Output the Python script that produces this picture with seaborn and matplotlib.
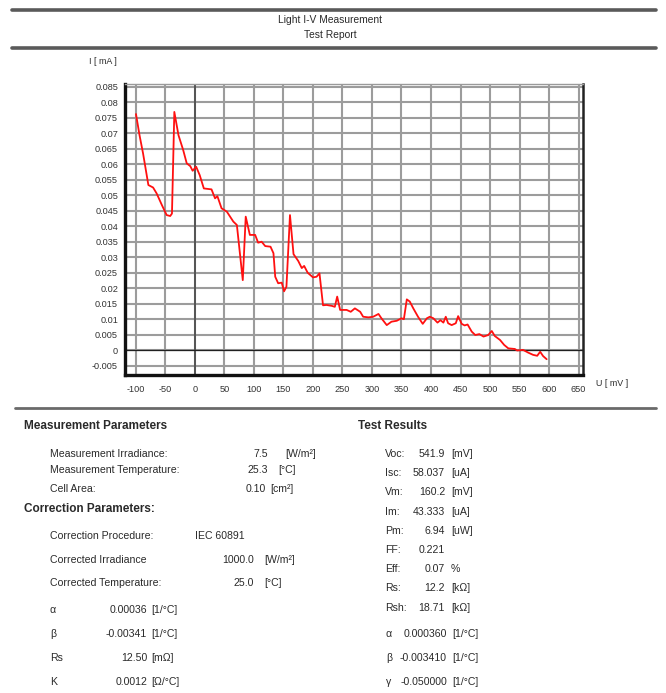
import matplotlib
matplotlib.use("Agg")
import matplotlib.pyplot as plt
from matplotlib.lines import Line2D
from matplotlib.ticker import FuncFormatter
import numpy as np
import pandas as pd
import seaborn as sns

# ---- I-V sweep (voltage in mV, current in mA) ----
voltage_mv = [
    -100, -94, -88, -79, -71, -65, -56, -48, -42, -39, -35, -28, -20, -14, -8, -4,
    2, 8, 15, 28, 34, 38, 45, 54, 65, 71, 81, 86, 93, 102, 107, 113, 119, 128,
    133, 136, 141, 147, 151, 155, 161, 167, 175, 181, 185, 191, 200, 206, 211,
    217, 223, 232, 237, 241, 246, 257, 264, 271, 280, 285, 294, 302, 311, 316,
    325, 333, 342, 350, 354, 359, 364, 370, 378, 386, 393, 398, 404, 411, 416,
    421, 425, 429, 435, 442, 446, 452, 457, 462, 469, 475, 482, 489, 497, 503,
    508, 517, 524, 531, 542, 546, 556, 565, 573, 580, 585, 590, 596,
]
current_ma = [
    0.0762, 0.0694, 0.0635, 0.0533, 0.0525, 0.0506, 0.0468, 0.0436, 0.0433,
    0.0441, 0.0769, 0.0694, 0.0646, 0.0603, 0.0594, 0.0579, 0.0592, 0.0565,
    0.0522, 0.0519, 0.0490, 0.0497, 0.0458, 0.0447, 0.0415, 0.0404, 0.0226,
    0.0431, 0.0372, 0.0372, 0.0347, 0.0350, 0.0336, 0.0334, 0.0313, 0.0237,
    0.0216, 0.0218, 0.0190, 0.0205, 0.0436, 0.0310, 0.0288, 0.0265, 0.0272,
    0.0250, 0.0235, 0.0237, 0.0248, 0.0145, 0.0146, 0.0143, 0.0140, 0.0173,
    0.0130, 0.0130, 0.0124, 0.0135, 0.0124, 0.0108, 0.0106, 0.0108, 0.0117,
    0.0103, 0.0081, 0.0092, 0.0095, 0.0103, 0.0100, 0.0164, 0.0157, 0.0135,
    0.0108, 0.0085, 0.0103, 0.0108, 0.0103, 0.0089, 0.0097, 0.0089, 0.0108,
    0.0087, 0.0081, 0.0087, 0.0110, 0.0085, 0.0080, 0.0083, 0.0060, 0.0049,
    0.0052, 0.0044, 0.0049, 0.0062, 0.0046, 0.0033, 0.0017, 0.0006, 0.0004,
    -0.0001, 0.0001, -0.0008, -0.0015, -0.0018, -0.0005, -0.0019, -0.0029,
]

x_ticks = list(range(-100, 651, 50))
y_ticks = [round(v, 3) for v in np.arange(-0.005, 0.0851, 0.005)]

# ---- report tables ----
measurement_labels = ["Measurement Irradiance:", "Measurement Temperature:", "Cell Area:"]
measurement_values = ["7.5", "25.3", "0.10"]
measurement_units = ["[W/m²]", "[°C]", "[cm²]"]

correction_labels = ["Corrected Irradiance", "Corrected Temperature:"]
correction_values = ["1000.0", "25.0"]
correction_units = ["[W/m²]", "[°C]"]

coef_labels = ["α", "β", "Rs", "K"]
coef_values = ["0.00036", "-0.00341", "12.50", "0.0012"]
coef_units = ["[1/°C]", "[1/°C]", "[mΩ]", "[Ω/°C]"]

result_labels = ["Voc:", "Isc:", "Vm:", "Im:", "Pm:", "FF:", "Eff:", "Rs:", "Rsh:"]
result_values = ["541.9", "58.037", "160.2", "43.333", "6.94", "0.221", "0.07", "12.2", "18.71"]
result_units = ["[mV]", "[uA]", "[mV]", "[uA]", "[uW]", "", "%", "[kΩ]", "[kΩ]"]

temp_labels = ["α", "β", "γ"]
temp_values = ["0.000360", "-0.003410", "-0.050000"]
temp_units = ["[1/°C]", "[1/°C]", "[1/°C]"]

# ---- styling ----
sns.set_style("white")
plt.rcParams["font.family"] = ["Liberation Sans", "DejaVu Sans"]
plt.rcParams["axes.unicode_minus"] = False
TXT = "#2a2a2a"

W, H = 666, 693
fig = plt.figure(figsize=(W / 100, H / 100), dpi=100)


def fx(px):
    return px / W


def fy(py):
    return 1 - py / H


def label(x, y, s, ha="left", size=7.6, weight="normal"):
    fig.text(fx(x), fy(y), s, ha=ha, va="center", fontsize=size,
             fontweight=weight, color=TXT)


def hline(y, x0, x1, lw, color):
    fig.add_artist(Line2D([fx(x0), fx(x1)], [fy(y), fy(y)], lw=lw,
                          color=color, transform=fig.transFigure))


# header
hline(10, 12, 656, 2.6, "#5a5a5a")
hline(48, 12, 656, 2.6, "#5a5a5a")
label(330, 20, "Light I-V Measurement", ha="center", size=7.4)
label(330, 35, "Test Report", ha="center", size=7.4)

# ---- chart ----
ax = fig.add_axes([fx(125), fy(375), fx(583) - fx(125), fy(84) - fy(375)])
df = pd.DataFrame({"U": voltage_mv, "I": current_ma})
sns.lineplot(data=df, x="U", y="I", ax=ax, color="#ff1010", lw=1.3,
             estimator=None, sort=False, zorder=5)

ax.set_xlim(-118.6, 657.6)
ax.set_ylim(-0.0080, 0.0859)
ax.set_xticks(x_ticks)
ax.set_yticks(y_ticks)
ax.yaxis.set_major_formatter(FuncFormatter(lambda v, p: f"{v:g}" if abs(v) > 1e-9 else "0"))
ax.grid(True, color="#9c9c9c", lw=1.5)
ax.axvline(0, color="#555555", lw=1.4, zorder=2)
ax.axhline(0, color="#202020", lw=0.9, zorder=2)
ax.set_xlabel("")
ax.set_ylabel("")
ax.tick_params(axis="both", labelsize=6.6, colors="#333333", length=3,
               width=0.8, direction="out", pad=2)
ax.tick_params(axis="x", length=0, pad=7)
for side in ["left", "bottom"]:
    ax.spines[side].set_linewidth(2.4)
    ax.spines[side].set_color("#111111")
ax.spines["right"].set_linewidth(1.8)
ax.spines["right"].set_color("#222222")
ax.spines["top"].set_linewidth(1.0)
ax.spines["top"].set_color("#9a9a9a")

label(103, 62, "I [ mA ]", ha="center", size=6.4)
label(612, 384, "U [ mV ]", ha="center", size=6.4)

# ---- parameter tables ----
hline(408, 15, 656, 2.0, "#6a6a6a")

label(24, 426, "Measurement Parameters", weight="bold", size=8.5)
for i, (l, v, u) in enumerate(zip(measurement_labels, measurement_values, measurement_units)):
    y = [454, 470, 489][i]
    label(50, y, l)
    label(268 if i < 2 else 266, y, v, ha="right")
    label(285 if i == 0 else (278 if i == 1 else 270), y, u)

label(24, 509, "Correction Parameters:", weight="bold", size=8.5)
label(50, 536, "Correction Procedure:")
label(195, 536, "IEC 60891")
for i, (l, v, u) in enumerate(zip(correction_labels, correction_values, correction_units)):
    y = [560, 583][i]
    label(50, y, l)
    label(254, y, v, ha="right")
    label(264, y, u)

for i, (l, v, u) in enumerate(zip(coef_labels, coef_values, coef_units)):
    y = 610 + i * 24
    label(50, y, l)
    label(147, y, v, ha="right")
    label(151, y, u)

label(358, 426, "Test Results", weight="bold", size=8.5)
for i, (l, v, u) in enumerate(zip(result_labels, result_values, result_units)):
    y = 454 + i * 19.2
    label(385, y, l)
    label(445, y, v, ha="right")
    if u:
        label(451, y, u)

for i, (l, v, u) in enumerate(zip(temp_labels, temp_values, temp_units)):
    y = 634 + i * 24
    label(386, y, l)
    label(447, y, v, ha="right")
    label(452, y, u)

fig.savefig("out.png", dpi=100, facecolor="white")
